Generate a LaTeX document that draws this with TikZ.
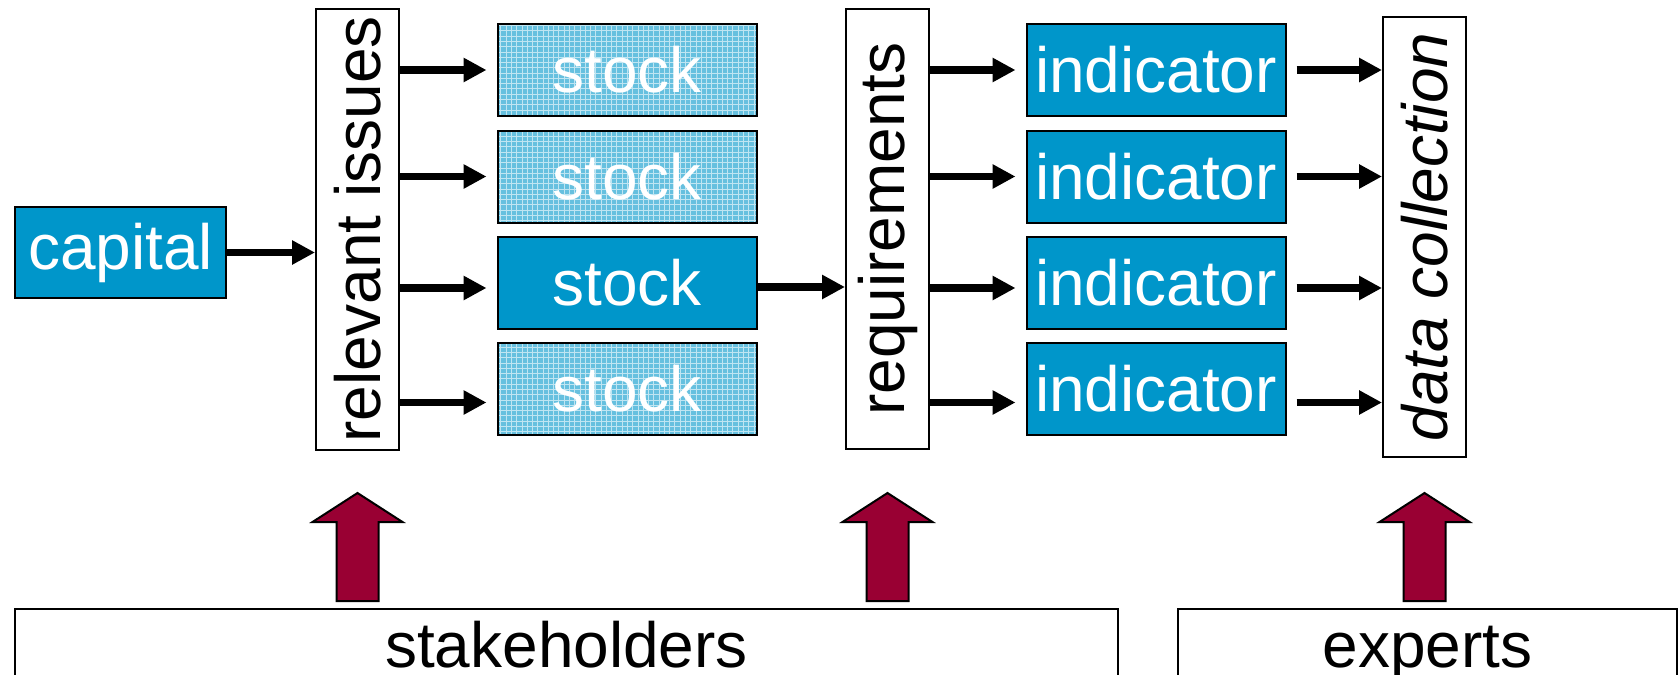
\documentclass[tikz,border=0pt]{standalone}
\usepackage{fontspec}
\setmainfont{Liberation Sans}
\usepackage{graphicx}
\usetikzlibrary{arrows.meta,patterns}
\definecolor{capblue}{RGB}{0,150,202}
\definecolor{wine}{RGB}{153,0,51}
\begin{document}
\begin{tikzpicture}[font=\fontsize{36.4}{40}\selectfont,
  box/.style={draw, line width=0.04cm, inner sep=0pt},
  bluebox/.style={box, fill=capblue, text=white, minimum width=5.18cm, minimum height=1.84cm},
  hatchbox/.style={box, text=white, minimum width=5.18cm, minimum height=1.84cm,
    preaction={fill=capblue!60!white}, pattern=grid, pattern color=white!75!capblue},
  vbox/.style={box, fill=white, minimum width=1.66cm, minimum height=8.8cm},
  bottombox/.style={box, anchor=north, inner ysep=0pt, text height=1.16cm, text depth=1.6cm},
  flow/.style={line width=0.15cm, -{Triangle[length=0.46cm,width=0.46cm]}},
  bigup/.style={draw, line width=0.04cm, fill=wine}]
\useasboundingbox (0,0) rectangle (33.58,-13.48);
\node[bluebox, minimum width=4.22cm, minimum height=1.82cm] (cap) at (2.41,-5.05) {capital};
\node[vbox] (rel) at (7.15,-4.59) {\rotatebox{90}{relevant issues}};
\node[hatchbox] (s1) at (12.54,-1.40) {stock};
\node[hatchbox] (s2) at (12.54,-3.53) {stock};
\node[bluebox] (s3) at (12.54,-5.66) {stock};
\node[hatchbox] (s4) at (12.54,-7.77) {stock};
\node[vbox] (req) at (17.75,-4.58) {\rotatebox{90}{requirements}};
\foreach \i/\y in {1/-1.40,2/-3.53,3/-5.66,4/-7.77}
  \node[bluebox] (ind\i) at (23.12,\y) {indicator};
\node[vbox] (data) at (28.49,-4.74) {\rotatebox{90}{\itshape data collection}};
\node[bottombox, minimum width=22.06cm] (stake) at (11.33,-12.16) {stakeholders};
\node[bottombox, minimum width=9.98cm] (exp) at (28.55,-12.16) {experts};
\draw[flow] (cap.east) -- (cap.east -| rel.west);
\foreach \i/\dy in {1/0,2/0,3/-0.1,4/-0.28} {
  \coordinate (a\i) at ([yshift=\dy cm]s\i.west);
  \draw[flow, shorten >=0.2cm] (rel.east |- a\i) -- (a\i);
  \coordinate (b\i) at ([yshift=\dy cm]ind\i.west);
  \draw[flow, shorten >=0.2cm] (req.east |- b\i) -- (b\i);
  \draw[flow, shorten <=0.2cm] (ind\i.east |- b\i) -- (data.west |- b\i);
}
\draw[flow] ([yshift=-0.08cm]s3.east) -- ([yshift=-0.08cm]s3.east -| req.west);
\foreach \b in {rel,req,data}
  \draw[bigup] ([yshift=0.14cm]\b.south |- stake.north) -- ++(0.42,0) -- ++(0,1.58)
    -- ++(0.48,0) -- ++(-0.9,0.58) -- ++(-0.9,-0.58) -- ++(0.48,0) -- ++(0,-1.58) -- cycle;
\end{tikzpicture}
\end{document}
